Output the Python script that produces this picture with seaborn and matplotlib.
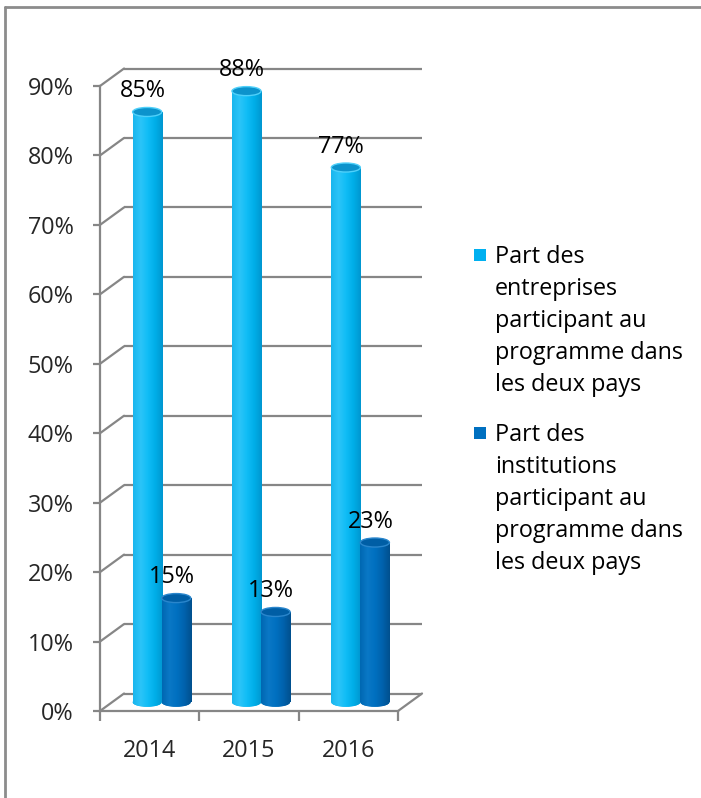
import numpy as np
import pandas as pd
import matplotlib
matplotlib.use("Agg")
import matplotlib.pyplot as plt
import seaborn as sns
from matplotlib.patches import Ellipse, Rectangle
from matplotlib.colors import LinearSegmentedColormap
from matplotlib.lines import Line2D

# ---------------- data ----------------
years = ["2014", "2015", "2016"]
series_names = [
    "Part des\nentreprises\nparticipant au\nprogramme dans\nles deux pays",
    "Part des\ninstitutions\nparticipant au\nprogramme dans\nles deux pays",
]
entreprises = [85, 88, 77]
institutions = [15, 13, 23]
y_ticks = [0, 10, 20, 30, 40, 50, 60, 70, 80, 90]

# ---------------- style ----------------
sns.set_theme(style="white")
plt.rcParams["font.family"] = ["Open Sans", "DejaVu Sans"]
FS = 16.8
GRID = "#868686"
LIGHT = "#00B0F0"
DARK = "#0070C0"

df = pd.DataFrame({
    "year": years * 2,
    "value": entreprises + institutions,
    "series": [series_names[0]] * 3 + [series_names[1]] * 3,
})

fig = plt.figure(figsize=(7.01, 7.98), dpi=100)
W, H = 701, 798
ax = fig.add_axes([100 / W, (H - 711) / H, 298 / W, 625 / H])

sns.barplot(data=df, x="year", y="value", hue="series", order=years,
            hue_order=series_names, palette=[LIGHT, DARK], width=0.585,
            saturation=1, ax=ax, legend=False, zorder=3)

ax.set_xlim(-0.5, 2.5)
ax.set_ylim(0, 90)

# depth of the pseudo-3D box (data units)
DX, DY = 0.242, 2.52
hx, hy = DX / 2, DY / 2

# back wall gridlines + left wall diagonals
for v in y_ticks:
    ax.plot([-0.5 + DX, 2.5 + DX], [v + DY, v + DY], color=GRID, lw=1.6,
            clip_on=False, zorder=1, solid_capstyle="butt")
    ax.plot([-0.5, -0.5 + DX], [v, v + DY], color=GRID, lw=1.6,
            clip_on=False, zorder=1)
# floor right edge
ax.plot([2.5, 2.5 + DX], [0, DY], color=GRID, lw=1.6, clip_on=False, zorder=1)

# cylinder shading
cmap_light = LinearSegmentedColormap.from_list(
    "l", ["#19b6ee", "#2cc4f8", "#10bdf6", "#00aee8", "#0097d0"])
cmap_dark = LinearSegmentedColormap.from_list(
    "d", ["#0068b2", "#0a78c6", "#0070c0", "#0062ad", "#00508e"])
grad = np.linspace(0, 1, 64).reshape(1, -1)
ell_h = 1.3

bars = list(ax.patches)
for i, p in enumerate(bars):
    fc = p.get_facecolor()
    is_light = fc[1] > 0.6
    cmap = cmap_light if is_light else cmap_dark
    top_c = "#0c93cc" if is_light else "#005ea5"
    rim_c = "#4fd0fa" if is_light else "#2a86cc"
    x0 = p.get_x() + hx
    w = p.get_width()
    h = p.get_height()
    p.set_x(x0)
    p.set_y(hy)
    p.set_edgecolor("none")
    p.set_clip_on(False)
    # bottom rounded end
    bot = Ellipse((x0 + w / 2, hy), w, ell_h, facecolor=fc,
                  edgecolor="none", zorder=2.9, clip_on=False)
    ax.add_patch(bot)
    for clip in (p, bot):
        im = ax.imshow(grad, cmap=cmap, aspect="auto",
                       extent=(x0, x0 + w, hy - ell_h, hy + h),
                       zorder=3.1, interpolation="bilinear")
        im.set_clip_path(clip)
    top = Ellipse((x0 + w / 2, hy + h), w, ell_h, facecolor=top_c,
                  edgecolor=rim_c, lw=1.0, zorder=3.5, clip_on=False)
    ax.add_patch(top)
    ax.text(x0 + w / 2 - 0.045, h + hy + 3.0, f"{int(round(h))}%",
            ha="center", va="center", fontsize=FS, color="black", zorder=5)

ax.set_xlim(-0.5, 2.5)
ax.set_ylim(0, 90)

# axes spines / ticks (front plane)
for s in ["top", "right"]:
    ax.spines[s].set_visible(False)
for s in ["left", "bottom"]:
    ax.spines[s].set_color(GRID)
    ax.spines[s].set_linewidth(1.6)
    ax.spines[s].set_zorder(1)

ax.set_yticks(y_ticks)
ax.set_yticklabels([f"{v}%" for v in y_ticks], fontsize=FS)
ax.tick_params(axis="y", length=5, width=1.6, color=GRID, pad=14, left=True)
ax.set_xticks(range(len(years)))
ax.set_xticklabels(years, fontsize=FS)
ax.tick_params(axis="x", which="major", length=0, pad=20)
ax.set_xticks([-0.5, 0.5, 1.5, 2.5], minor=True)
ax.tick_params(axis="x", which="minor", length=7, width=1.6, color=GRID,
               bottom=True)
ax.set_xlabel("")
ax.set_ylabel("")
ax.set_facecolor("none")

# legend (drawn as figure-level squares + text lines)
leg_colors = [LIGHT, DARK]
first_baseline = [263, 441]
line_step = 32
for name, col, b0 in zip(series_names, leg_colors, first_baseline):
    fig.add_artist(Rectangle((474 / W, 1 - (b0 - 2) / H), 12 / W, 12 / H,
                             transform=fig.transFigure, facecolor=col,
                             edgecolor="none"))
    for k, line in enumerate(name.split("\n")):
        fig.text(495 / W, 1 - (b0 + k * line_step) / H, line, fontsize=FS,
                 ha="left", va="baseline", color="black")

# outer chart frame
fig.add_artist(Line2D([5 / W, 5 / W], [0, 1 - 7 / H], color="#8c8c8c",
                      lw=2, transform=fig.transFigure))
fig.add_artist(Line2D([5 / W, 1], [1 - 7 / H, 1 - 7 / H], color="#8c8c8c",
                      lw=2, transform=fig.transFigure))

fig.savefig("out.png", dpi=100)
